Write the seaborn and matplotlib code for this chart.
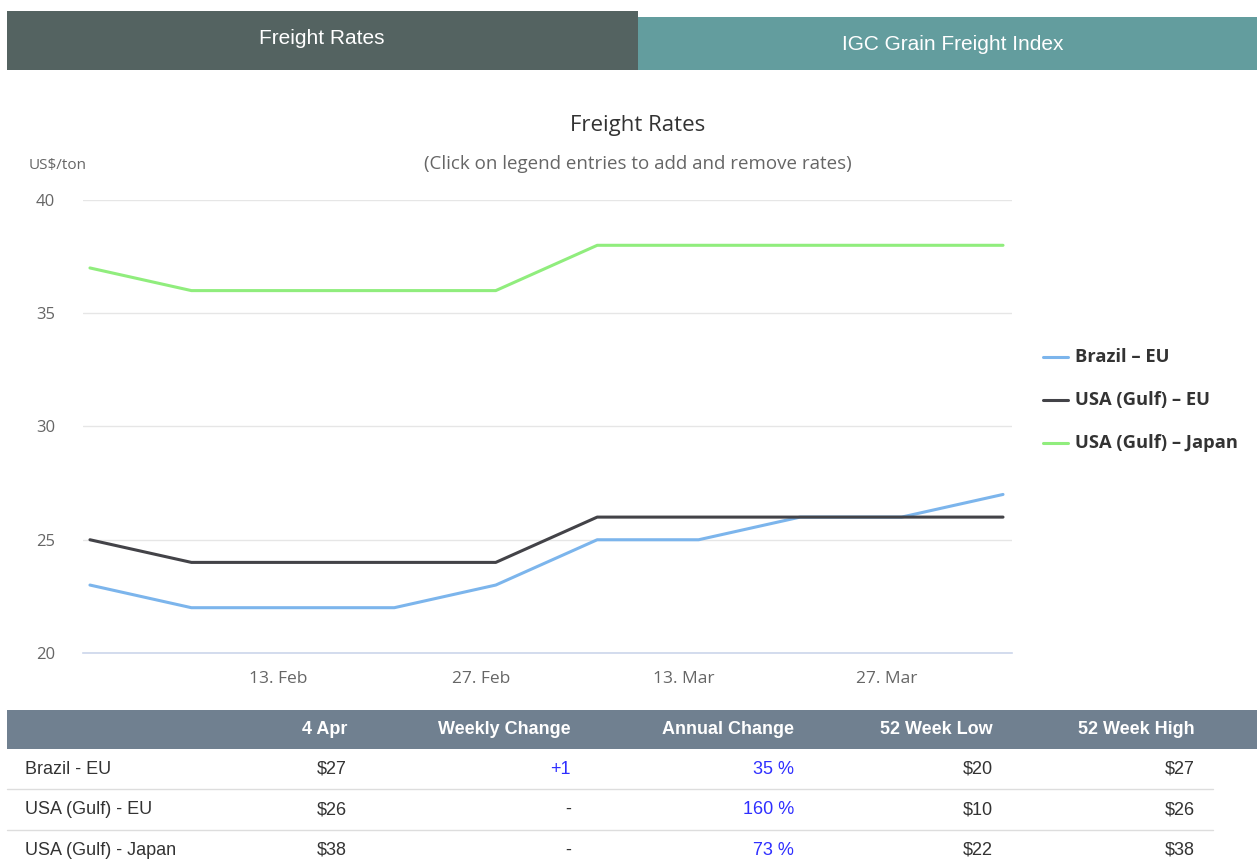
import matplotlib

matplotlib.use("Agg")
import matplotlib.dates as mdates
import matplotlib.pyplot as plt
import pandas as pd
import seaborn as sns
from matplotlib.patches import Rectangle

# weekly observations
dates = ["2019-01-31", "2019-02-07", "2019-02-14", "2019-02-21", "2019-02-28",
         "2019-03-07", "2019-03-14", "2019-03-21", "2019-03-28", "2019-04-04"]
brazil_eu = [23, 22, 22, 22, 23, 25, 25, 26, 26, 27]
usa_gulf_eu = [25, 24, 24, 24, 24, 26, 26, 26, 26, 26]
usa_gulf_japan = [37, 36, 36, 36, 36, 38, 38, 38, 38, 38]
routes = ["Brazil \u2013 EU", "USA (Gulf) \u2013 EU", "USA (Gulf) \u2013 Japan"]
route_colors = ["#7cb5ec", "#434348", "#90ed7d"]

tick_dates = ["2019-02-13", "2019-02-27", "2019-03-13", "2019-03-27"]
tick_labels = ["13. Feb", "27. Feb", "13. Mar", "27. Mar"]

table_header = ["", "4 Apr", "Weekly Change", "Annual Change", "52 Week Low", "52 Week High"]
table_rows = [
    ["Brazil - EU", "$27", "+1", "35 %", "$20", "$27"],
    ["USA (Gulf) - EU", "$26", "-", "160 %", "$10", "$26"],
    ["USA (Gulf) - Japan", "$38", "-", "73 %", "$22", "$38"],
]

W, H = 1257, 863

df = pd.DataFrame({
    "date": pd.to_datetime(dates * 3),
    "rate": brazil_eu + usa_gulf_eu + usa_gulf_japan,
    "route": [r for r in routes for _ in dates],
})

sns.set_style("white")
plt.rcParams["font.family"] = ["Open Sans", "DejaVu Sans"]

fig = plt.figure(figsize=(W / 100, H / 100), dpi=100)


def fx(px):
    return px / W


def fy(py):
    return 1 - py / H


# tabs
fig.patches.append(Rectangle((fx(7), fy(70)), fx(631), 59 / H, transform=fig.transFigure,
                             facecolor="#546361", edgecolor="none"))
fig.patches.append(Rectangle((fx(638), fy(70)), fx(619), 53 / H, transform=fig.transFigure,
                             facecolor="#639d9e", edgecolor="none"))
fig.text(fx(322), fy(39), "Freight Rates", color="white", fontsize=15,
         family="Liberation Sans", ha="center", va="center")
fig.text(fx(953), fy(45), "IGC Grain Freight Index", color="white", fontsize=15,
         family="Liberation Sans", ha="center", va="center")

# chart
ax = fig.add_axes([fx(83), fy(653), fx(1012 - 83), (653 - 200) / H])
sns.lineplot(data=df, x="date", y="rate", hue="route", hue_order=routes,
             palette=route_colors, linewidth=2.2, ax=ax, legend=False)

ax.set_ylim(20, 40)
ax.set_yticks([20, 25, 30, 35, 40])
x0 = mdates.date2num(pd.Timestamp(dates[0])) - 0.48
x1 = mdates.date2num(pd.Timestamp(dates[-1])) + 0.62
ax.set_xlim(x0, x1)
ax.set_xticks(mdates.date2num(pd.to_datetime(tick_dates)))
ax.set_xticklabels(tick_labels)
ax.grid(axis="y", color="#e6e6e6", linewidth=1)
for side in ["top", "right", "left"]:
    ax.spines[side].set_visible(False)
ax.spines["bottom"].set_color("#ccd6eb")
ax.spines["bottom"].set_linewidth(1.2)
ax.tick_params(axis="x", length=10, width=1, color="#ccd6eb", labelcolor="#666666",
               labelsize=12.5, pad=3, direction="out")
ax.tick_params(axis="y", length=0, labelcolor="#666666", labelsize=12, pad=20)
ax.set_xlabel("")
ax.set_ylabel("")

fig.text(fx(638), fy(125), "Freight Rates", color="#333333", fontsize=16,
         ha="center", va="center")
fig.text(fx(638), fy(164), "(Click on legend entries to add and remove rates)",
         color="#666666", fontsize=13.5, ha="center", va="center")
fig.text(fx(29), fy(165), "US$/ton", color="#666666", fontsize=11, ha="left", va="center")

# legend
for i, (name, col) in enumerate(zip(routes, route_colors)):
    y = fy(357 + i * 43)
    fig.add_artist(plt.Line2D([fx(1043), fx(1068)], [y, y], transform=fig.transFigure,
                              color=col, linewidth=2.2))
    fig.text(fx(1075), y, name, color="#333333", fontsize=13.2, fontweight="bold",
             ha="left", va="center")

# table
fig.patches.append(Rectangle((fx(7), fy(749)), fx(1250), 39 / H, transform=fig.transFigure,
                             facecolor="#708090", edgecolor="none"))
col_right = [None, 347, 571, 794, 993, 1195]
for j, label in enumerate(table_header):
    if label:
        fig.text(fx(col_right[j]), fy(729), label, color="white", fontsize=13,
                 fontweight="bold", family="Liberation Sans", ha="right", va="center")
for i, row in enumerate(table_rows):
    y = fy(769 + i * 40.5)
    for j, cell in enumerate(row):
        color = "#333333"
        if j in (2, 3) and cell != "-":
            color = "#2f2fff"
        if j == 0:
            fig.text(fx(25), y, cell, color=color, fontsize=13, family="Liberation Sans",
                     ha="left", va="center")
        else:
            fig.text(fx(col_right[j]), y, cell, color=color, fontsize=13,
                     family="Liberation Sans", ha="right", va="center")
    if i < len(table_rows) - 1:
        ys = fy(789 + i * 41)
        fig.add_artist(plt.Line2D([fx(7), fx(1213)], [ys, ys], transform=fig.transFigure,
                                  color="#dddddd", linewidth=1))

fig.savefig("out.png", dpi=100)
plt.close(fig)
